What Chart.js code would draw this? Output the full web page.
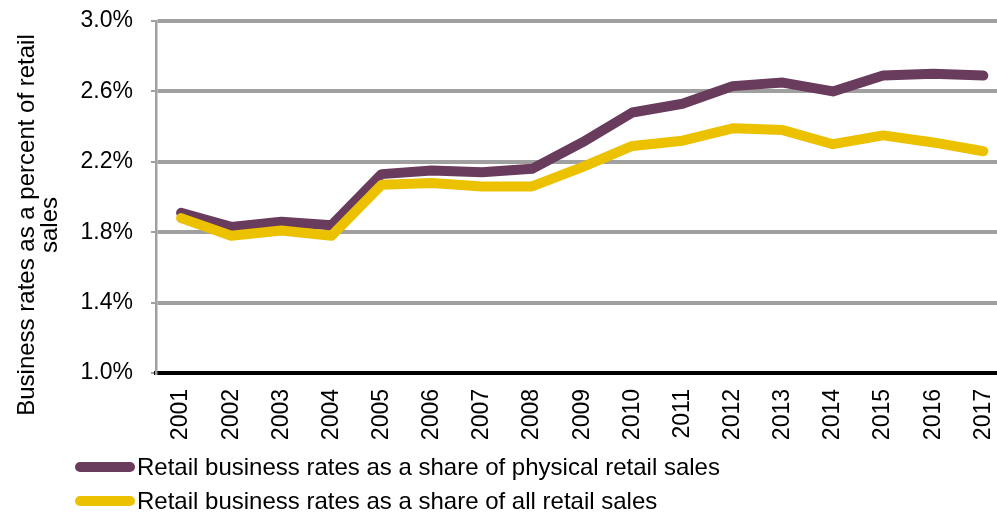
<!DOCTYPE html>
<html>
<head>
<meta charset="utf-8">
<script src="https://cdn.jsdelivr.net/npm/chart.js@4/dist/chart.umd.min.js"></script>
<style>
  html, body { margin: 0; padding: 0; background: #fff; overflow: hidden; }
  #wrap { position: relative; width: 1019px; height: 516px; }
</style>
</head>
<body>
<div id="wrap"><canvas id="c"></canvas></div>
<script>
const years = ['2001','2002','2003','2004','2005','2006','2007','2008','2009','2010','2011','2012','2013','2014','2015','2016','2017'];
const physicalShare = [1.91, 1.83, 1.86, 1.84, 2.13, 2.15, 2.14, 2.16, 2.31, 2.48, 2.53, 2.63, 2.65, 2.60, 2.69, 2.70, 2.69];
const allShare      = [1.88, 1.78, 1.81, 1.78, 2.07, 2.08, 2.06, 2.06, 2.17, 2.29, 2.32, 2.39, 2.38, 2.30, 2.35, 2.31, 2.26];
const yTickValues = [1.0, 1.4, 1.8, 2.2, 2.6, 3.0];
const seriesNames = ['Retail business rates as a share of physical retail sales', 'Retail business rates as a share of all retail sales'];
const seriesColors = ['#693b5c', '#ebc100'];
const yTitleLines = ['Business rates as a percent of retail', 'sales'];

const FONT = '"Liberation Sans", Arial, sans-serif';

const decor = {
  id: 'decor',
  afterDraw(chart) {
    const ctx = chart.ctx;
    ctx.save();
    // y axis title (rotated)
    ctx.fillStyle = '#000';
    ctx.font = '24px ' + FONT;
    ctx.textAlign = 'center';
    ctx.textBaseline = 'alphabetic';
    const cy = 225;
    const baselines = [34, 57];
    yTitleLines.forEach((t, i) => {
      ctx.save();
      ctx.translate(baselines[i], cy);
      ctx.rotate(-Math.PI / 2);
      ctx.fillText(t, 0, 0);
      ctx.restore();
    });
    // legend
    const rows = [467, 501];
    chart.data.datasets.forEach((ds, i) => {
      const y = rows[i];
      ctx.strokeStyle = ds.borderColor;
      ctx.lineWidth = 10;
      ctx.lineCap = 'round';
      ctx.beginPath();
      ctx.moveTo(80, y);
      ctx.lineTo(130, y);
      ctx.stroke();
      ctx.fillStyle = '#000';
      ctx.textAlign = 'left';
      ctx.textBaseline = 'middle';
      ctx.font = '24px ' + FONT;
      ctx.fillText(ds.label, 137, y + 1);
    });
    ctx.restore();
  }
};

new Chart(document.getElementById('c'), {
  type: 'line',
  data: {
    labels: years,
    datasets: [
      { label: seriesNames[0], data: physicalShare, borderColor: seriesColors[0], backgroundColor: seriesColors[0],
        borderWidth: 10, pointRadius: 0, tension: 0, borderCapStyle: 'round', borderJoinStyle: 'round', order: 1 },
      { label: seriesNames[1], data: allShare, borderColor: seriesColors[1], backgroundColor: seriesColors[1],
        borderWidth: 10, pointRadius: 0, tension: 0, borderCapStyle: 'round', borderJoinStyle: 'round', order: 0 }
    ]
  },
  options: {
    responsive: true,
    maintainAspectRatio: false,
    animation: false,
    layout: { padding: { top: 21, right: 2, bottom: 73, left: 0 } },
    plugins: { legend: { display: false }, tooltip: { enabled: false } },
    scales: {
      x: {
        offset: true,
        grid: { display: false },
        border: { display: true, color: '#000', width: 4 },
        ticks: { color: '#000', font: { family: FONT, size: 23 }, minRotation: 90, maxRotation: 90, padding: 8, autoSkip: false },
        afterFit(scale) { scale.height = 70; }
      },
      y: {
        min: 1.0, max: 3.0,
        afterBuildTicks(scale) { scale.ticks = yTickValues.map(v => ({ value: v })); },
        grid: { color: '#a0a0a0', lineWidth: 4, tickLength: 5, tickColor: '#a0a0a0', tickWidth: 2 },
        border: { display: true, color: '#a0a0a0', width: 2.5 },
        ticks: { color: '#000', font: { family: FONT, size: 23 }, padding: 18, callback: v => v.toFixed(1) + '%' },
        afterFit(scale) { scale.width = 156; scale.paddingTop = 0; scale.paddingBottom = 0; }
      }
    }
  },
  plugins: [decor]
});
</script>
</body>
</html>
